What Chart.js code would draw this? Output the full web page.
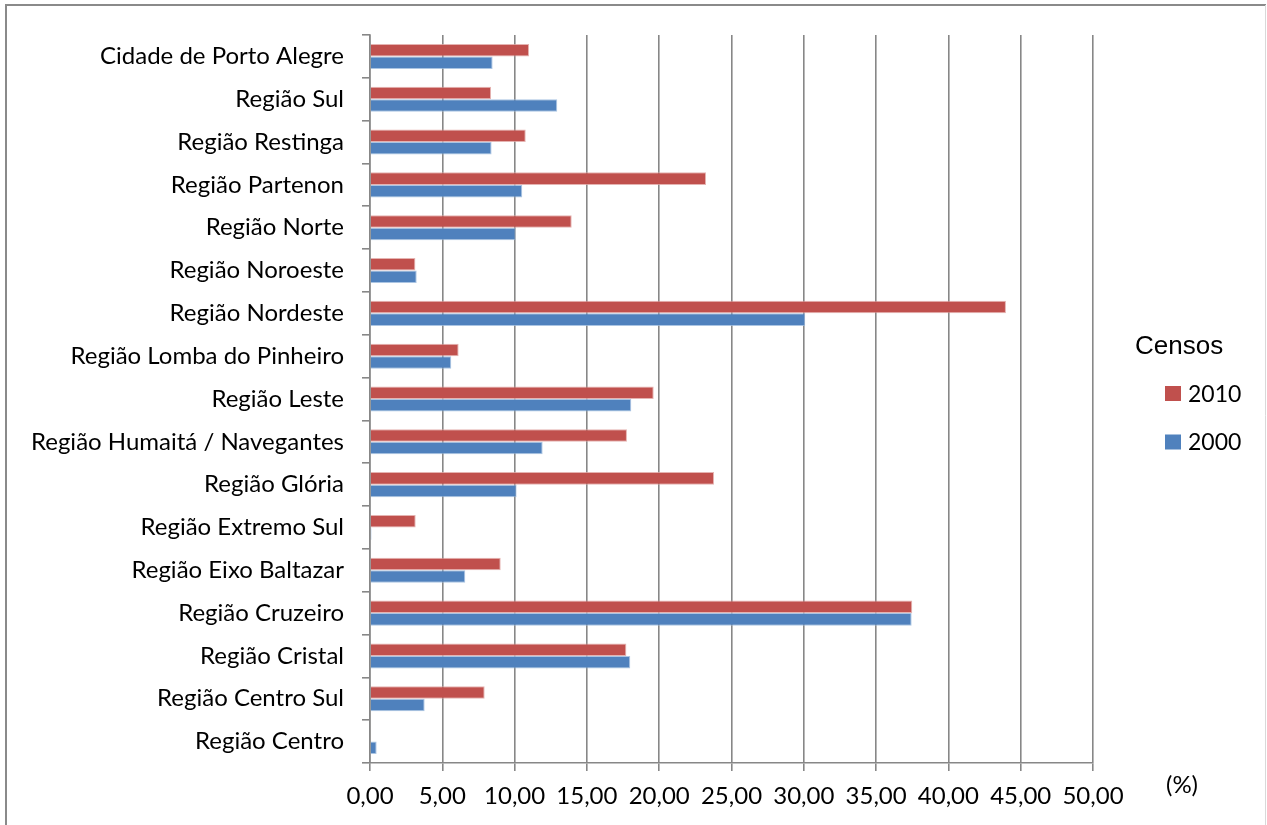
<!DOCTYPE html>
<html>
<head>
<meta charset="utf-8">
<script src="https://cdn.jsdelivr.net/npm/chart.js@4/dist/chart.umd.min.js"></script>
<style>
  html, body { margin: 0; padding: 0; background: #ffffff; }
  #wrap { width: 1267px; height: 825px; position: relative; }
</style>
</head>
<body>
<div id="wrap"><canvas id="chart" width="1267" height="825"></canvas></div>
<script>
// Regions of Porto Alegre, listed top to bottom
const regions = [
  'Cidade de Porto Alegre',
  'Região Sul',
  'Região Restinga',
  'Região Partenon',
  'Região Norte',
  'Região Noroeste',
  'Região Nordeste',
  'Região Lomba do Pinheiro',
  'Região Leste',
  'Região Humaitá / Navegantes',
  'Região Glória',
  'Região Extremo Sul',
  'Região Eixo Baltazar',
  'Região Cruzeiro',
  'Região Cristal',
  'Região Centro Sul',
  'Região Centro'
];

// Percentages per census
const censo2010 = [11.00, 8.37, 10.77, 23.24, 13.95, 3.14, 43.98, 6.13, 19.62, 17.77, 23.79, 3.16, 9.04, 37.50, 17.73, 7.93, 0.05];
const censo2000 = [8.48, 12.95, 8.41, 10.53, 10.07, 3.23, 30.10, 5.62, 18.07, 11.94, 10.14, 0.10, 6.59, 37.46, 18.00, 3.78, 0.46];

const seriesNames = ['2010', '2000'];
const legendTitle = 'Censos';
const axisUnit = '(%)';
const xTickLabels = ['0,00', '5,00', '10,00', '15,00', '20,00', '25,00', '30,00', '35,00', '40,00', '45,00', '50,00'];

const RED = '#C0504D';
const BLUE = '#4F81BD';
const GRID = '#878787';
const LABEL_FONT = 'Lato, "Open Sans", sans-serif';

// Outer frame, unit label and the legend block on the right
const decorations = {
  id: 'decorations',
  beforeDraw(chart) {
    const ctx = chart.ctx;
    ctx.save();
    ctx.fillStyle = '#ffffff';
    ctx.fillRect(0, 0, chart.width, chart.height);
    ctx.strokeStyle = '#8a8a8a';
    ctx.lineWidth = 2;
    ctx.beginPath();
    ctx.moveTo(6, chart.height + 2);
    ctx.lineTo(6, 5);
    ctx.lineTo(chart.width - 1, 5);
    ctx.stroke();
    ctx.strokeStyle = '#d9d9d9';
    ctx.lineWidth = 1;
    ctx.beginPath();
    ctx.moveTo(chart.width - 1.5, 5);
    ctx.lineTo(chart.width - 1.5, chart.height + 2);
    ctx.stroke();
    ctx.restore();
  },
  afterDraw(chart) {
    const ctx = chart.ctx;
    const area = chart.chartArea;
    ctx.save();
    ctx.fillStyle = '#000000';
    ctx.textBaseline = 'middle';

    // unit label beside the x axis
    ctx.font = '24px ' + LABEL_FONT;
    ctx.textAlign = 'center';
    ctx.fillText(axisUnit, area.right + 89, area.bottom + 22);

    // legend
    ctx.textAlign = 'left';
    ctx.font = '26px "Liberation Sans", Arial, sans-serif';
    ctx.fillText(legendTitle, 1135, 347);
    ctx.font = '23px ' + LABEL_FONT;
    const rows = [393.5, 442];
    chart.data.datasets.forEach((ds, i) => {
      ctx.fillStyle = ds.backgroundColor;
      ctx.fillRect(1165, rows[i] - 7.5, 16, 15);
      ctx.fillStyle = '#000000';
      ctx.fillText(ds.label, 1188, rows[i] + 1);
    });
    ctx.restore();
  }
};

new Chart(document.getElementById('chart'), {
  type: 'bar',
  data: {
    labels: regions,
    datasets: [
      { label: seriesNames[0], data: censo2010, backgroundColor: RED, borderColor: 'rgba(222,160,158,0.8)', borderWidth: 1, borderSkipped: 'start' },
      { label: seriesNames[1], data: censo2000, backgroundColor: BLUE, borderColor: 'rgba(150,182,220,0.8)', borderWidth: 1, borderSkipped: 'start' }
    ]
  },
  options: {
    indexAxis: 'y',
    responsive: false,
    animation: false,
    devicePixelRatio: 1,
    layout: { padding: { left: 0, top: 35, right: 174, bottom: 0 } },
    datasets: { bar: { categoryPercentage: 0.585, barPercentage: 1.0 } },
    plugins: {
      legend: { display: false },
      tooltip: { enabled: false },
      title: { display: false }
    },
    scales: {
      x: {
        type: 'linear',
        min: 0,
        max: 50,
        afterFit(scale) { scale.height = 62; },
        afterBuildTicks(scale) {
          scale.ticks = xTickLabels.map((_, i) => ({ value: i * 5 }));
        },
        ticks: {
          color: '#000000',
          font: { family: LABEL_FONT, size: 24 },
          padding: 11,
          maxRotation: 0,
          callback: (v, i) => xTickLabels[i]
        },
        grid: { color: GRID, lineWidth: 1.6, tickLength: 8, drawTicks: true },
        border: { display: true, color: GRID, width: 1.6 }
      },
      y: {
        type: 'category',
        afterFit(scale) { scale.width = 370; },
        ticks: {
          color: '#000000',
          font: { family: LABEL_FONT, size: 24 },
          padding: 18,
          autoSkip: false
        },
        grid: { drawOnChartArea: false, drawTicks: true, tickLength: 8, color: GRID, lineWidth: 1.6, offset: true },
        border: { display: true, color: GRID, width: 1.6 }
      }
    }
  },
  plugins: [decorations]
});
</script>
</body>
</html>
